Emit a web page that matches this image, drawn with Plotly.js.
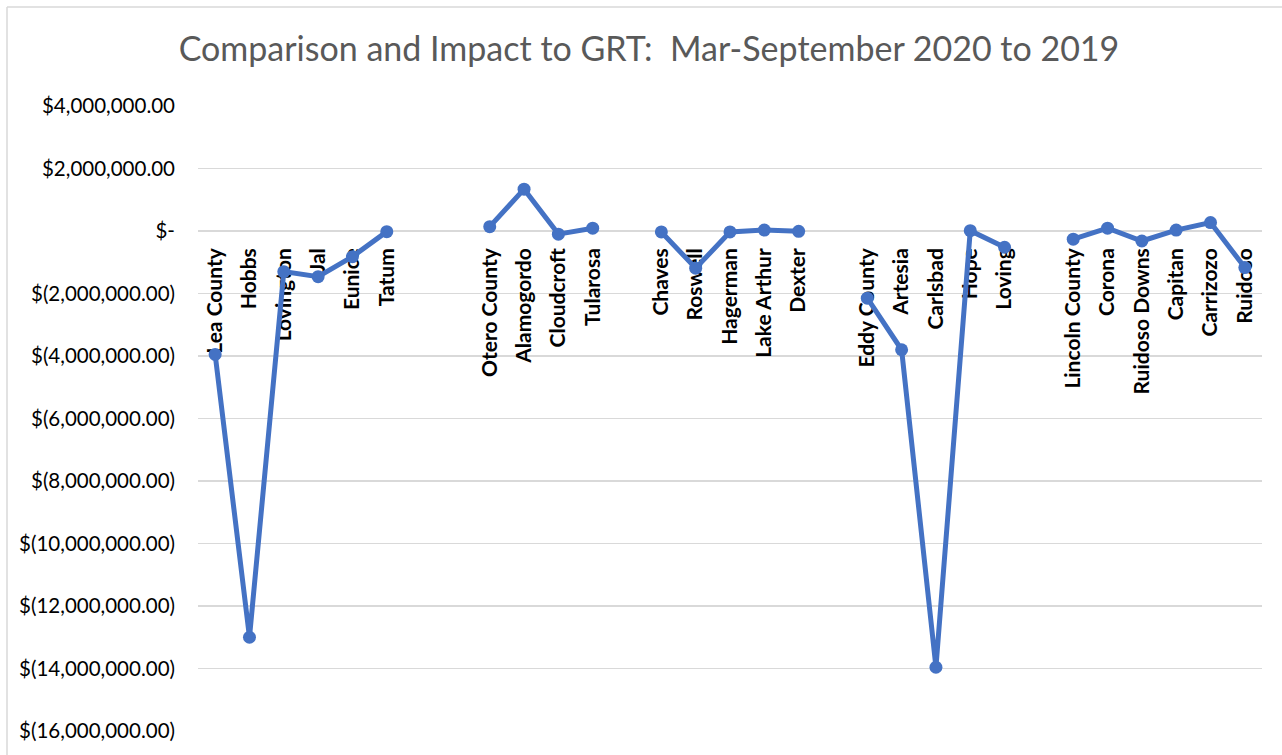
<!DOCTYPE html>
<html>
<head>
<meta charset="utf-8">
<script src="https://cdn.plot.ly/plotly-3.0.1.min.js"></script>
<style>
  html, body { margin: 0; padding: 0; background: #ffffff; }
  #chart { width: 1282px; height: 755px; }
</style>
</head>
<body>
<div id="chart"></div>
<script>
// Categories (empty strings are the blank gap columns between groups)
const categories = [
  "Lea County", "Hobbs", "Lovington", "Jal", "Eunice", "Tatum",
  "", "",
  "Otero County", "Alamogordo", "Cloudcroft", "Tularosa",
  "",
  "Chaves", "Roswell", "Hagerman", "Lake Arthur", "Dexter",
  "",
  "Eddy County", "Artesia", "Carlsbad", "Hope", "Loving",
  "",
  "Lincoln County", "Corona", "Ruidoso Downs", "Capitan", "Carrizozo", "Ruidoso"
];

// GRT change (2020 vs 2019), dollars; null = gap
const grtChange = [
  -3950000, -13000000, -1300000, -1460000, -820000, -20000,
  null, null,
  140000, 1340000, -100000, 90000,
  null,
  -30000, -1190000, -30000, 30000, -10000,
  null,
  -2150000, -3800000, -13960000, 10000, -520000,
  null,
  -260000, 90000, -320000, 30000, 270000, -1170000
];

const yTickValues = [4000000, 2000000, 0, -2000000, -4000000, -6000000, -8000000,
                     -10000000, -12000000, -14000000, -16000000];
const yTickLabels = ["$4,000,000.00", "$2,000,000.00", "$-", "$(2,000,000.00)",
                     "$(4,000,000.00)", "$(6,000,000.00)", "$(8,000,000.00)",
                     "$(10,000,000.00)", "$(12,000,000.00)", "$(14,000,000.00)",
                     "$(16,000,000.00)"];

const xIdx = categories.map((c, i) => i);

const trace = {
  type: "scatter",
  mode: "lines+markers",
  x: xIdx,
  y: grtChange,
  connectgaps: false,
  line: { color: "#4472C4", width: 5 },
  marker: { color: "#4472C4", size: 13 },
  hoverinfo: "skip"
};

const W = 1282, H = 755;
const mL = 198, mR = 20, mT = 106, mB = 24;
const pw = W - mL - mR, ph = H - mT - mB;

const layout = {
  width: W, height: H,
  margin: { l: mL, r: mR, t: mT, b: mB, pad: 0 },
  paper_bgcolor: "#ffffff",
  plot_bgcolor: "#ffffff",
  showlegend: false,
  title: {
    text: "Comparison and Impact to GRT:  Mar-September 2020 to 2019",
    font: { family: "Lato, sans-serif", size: 34, color: "#595959" },
    x: 649 / W, xanchor: "center", xref: "container",
    y: 1 - 49 / H, yanchor: "middle", yref: "container"
  },
  xaxis: {
    range: [-0.5, categories.length - 0.5],
    tickmode: "array",
    tickvals: xIdx,
    ticktext: categories,
    tickangle: -90,
    ticks: "",
    showgrid: false,
    zeroline: false,
    showline: false,
    anchor: "free",
    position: 0.8,
    layer: "below traces",
    ticklabelstandoff: 12,
    tickfont: { family: "Lato, sans-serif", size: 21, color: "#000000", weight: "bold" },
    automargin: false,
    fixedrange: true
  },
  yaxis: {
    range: [-16000000, 4000000],
    tickmode: "array",
    tickvals: yTickValues,
    ticktext: yTickLabels,
    ticks: "",
    showgrid: true,
    gridcolor: "#d9d9d9",
    gridwidth: 1.5,
    zeroline: false,
    showline: false,
    ticklabelstandoff: 22,
    tickfont: { family: "Lato, sans-serif", size: 20.5, color: "#000000" },
    automargin: false,
    fixedrange: true,
    layer: "below traces"
  },
  shapes: [
    { type: "line", xref: "paper", yref: "paper",
      x0: (7 - mL) / pw, x1: (W + 5 - mL) / pw,
      y0: (H - mB - 7) / ph, y1: (H - mB - 7) / ph,
      line: { color: "#d9d9d9", width: 1.5 } },
    { type: "line", xref: "paper", yref: "paper",
      x0: (7 - mL) / pw, x1: (7 - mL) / pw,
      y0: (H - mB - 7) / ph, y1: -(mB + 5) / ph,
      line: { color: "#d9d9d9", width: 1.5 } }
  ]
};

Plotly.newPlot("chart", [trace], layout, { displayModeBar: false, staticPlot: true });
</script>
</body>
</html>
